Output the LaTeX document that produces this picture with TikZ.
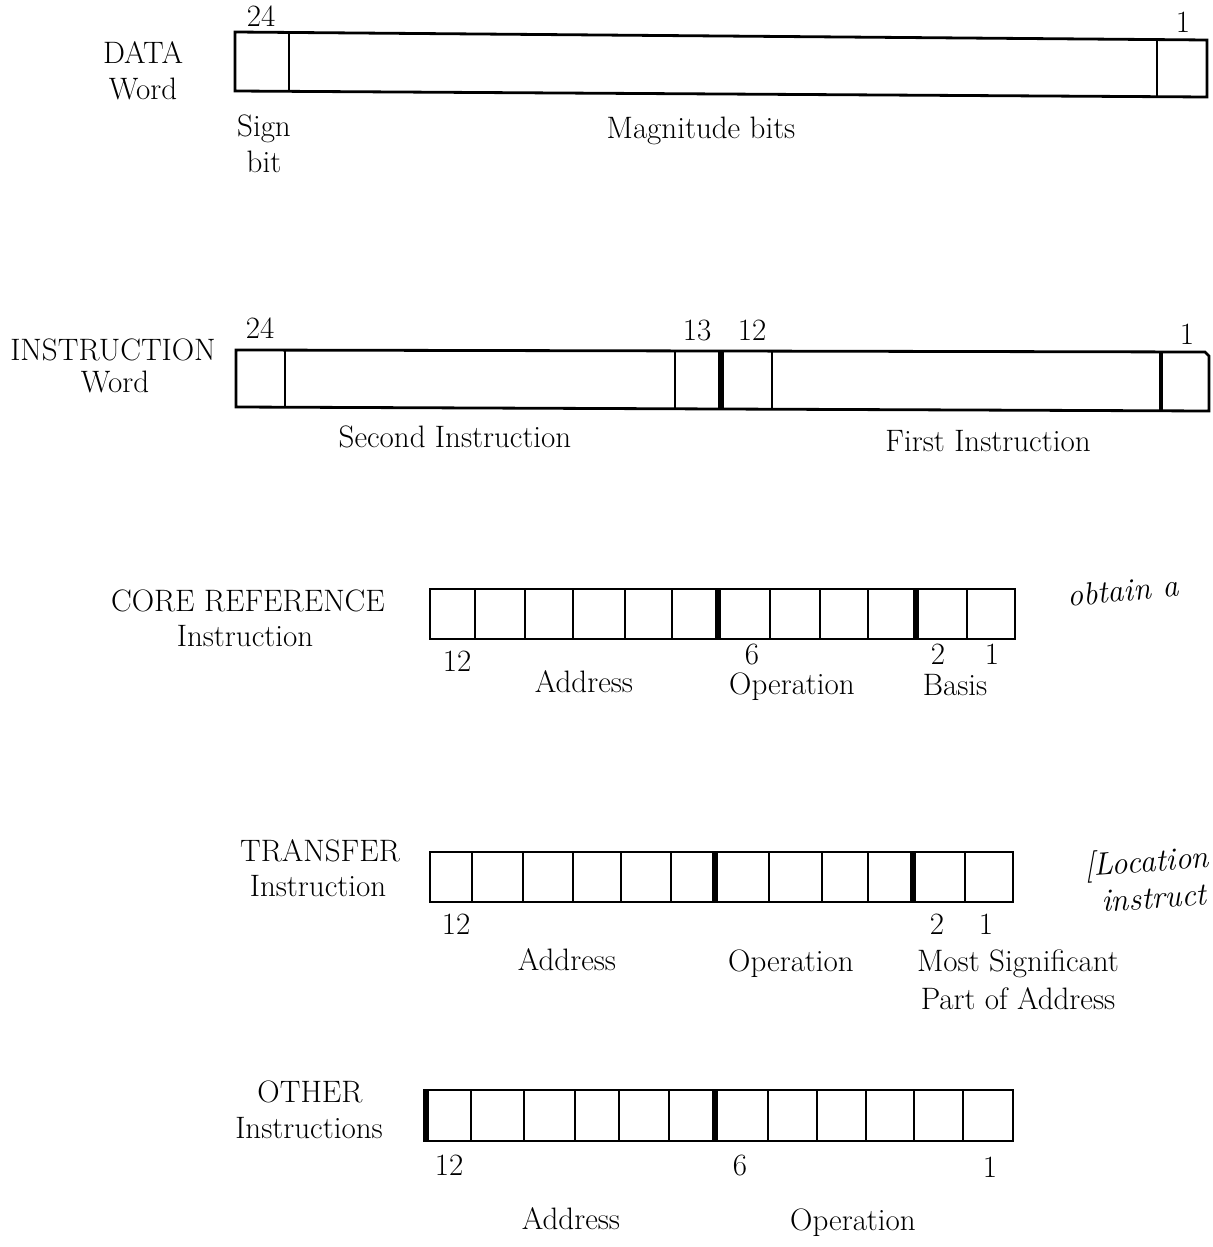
\documentclass[tikz,border=0pt]{standalone}
\begin{document}
\begin{tikzpicture}[x=0.5pt,y=-0.5pt,
  frame/.style={line width=1.4pt},
  thin div/.style={line width=1.4pt},
  thick div/.style={line width=3pt},
  lbl/.style={font=\fontsize{15.5}{18}\selectfont, inner sep=0pt, anchor=base},
  hand/.style={font=\fontsize{16}{18}\selectfont\itshape, inner sep=0pt, anchor=base west}]
\path[use as bounding box] (0,0) rectangle (1212,1247);
\clip (0,0) rectangle (1212,1247);

% ---------- DATA word ----------
\draw[frame] (235,32) -- (1207,40) -- (1207,97) -- (235,91) -- cycle;
\draw[thin div] (289,33) -- (289,91);
\draw[thin div] (1157,39) -- (1157,97);
\node[lbl] (d24) at (261,27) {24};
\node[lbl] (d1) at (1183,33) {1};
\node[lbl] (dtitle) at (143,64) {DATA};
\node[lbl] (dword) at (143,100) {Word};
\node[lbl] (sign) at (264,137) {Sign};
\node[lbl] (bit) at (264,172) {bit};
\node[lbl] (mag) at (701,139) {Magnitude bits};

% ---------- INSTRUCTION word ----------
\draw[frame] (236,350) -- (1205,352) -- (1209,356) -- (1209,411) -- (236,407) -- cycle;
\draw[thin div] (285,350) -- (285,407);
\draw[thin div] (675,351) -- (675,408);
\draw[thick div] (721,351) -- (721,408);
\draw[thin div] (772,351) -- (772,409);
\draw[line width=2.2pt] (1161,352) -- (1161,410);
\node[lbl] (i24) at (260,338) {24};
\node[lbl] (i13) at (697,340) {13};
\node[lbl] (i12) at (752,340) {12};
\node[lbl] (i1) at (1187,344) {1};
\node[lbl] (ititle) at (113,360) {INSTRUCTION};
\node[lbl] (iword) at (115,392) {Word};
\node[lbl] (second) at (455,447) {Second Instruction};
\node[lbl] (first) at (988,451) {First Instruction};

% ---------- CORE REFERENCE instruction ----------
\draw[frame] (430,589) rectangle (1015,639);
\foreach \x in {475,525,573,625,672,770,820,868,967}
  \draw[thin div] (\x,589) -- (\x,639);
\foreach \x in {718,916}
  \draw[thick div] (\x,589) -- (\x,639);
\node[lbl] (ctitle) at (248,611) {CORE REFERENCE};
\node[lbl] (cinstr) at (245,646) {Instruction};
\node[lbl] (c12) at (457,671) {12};
\node[lbl] (c6) at (752,664) {6};
\node[lbl] (c2) at (938,664) {2};
\node[lbl] (c1) at (992,664) {1};
\node[lbl] (caddr) at (584,692) {Address};
\node[lbl] (cop) at (792,694) {Operation};
\node[lbl] (cbasis) at (955,695) {Basis};
\node[hand, rotate=6] (obtain) at (1068,607) {obtain a};

% ---------- TRANSFER instruction ----------
\draw[frame] (430,852) rectangle (1013,902);
\foreach \x in {472,523,573,621,671,769,822,868,965}
  \draw[thin div] (\x,852) -- (\x,902);
\foreach \x in {715,913}
  \draw[thick div] (\x,852) -- (\x,902);
\node[lbl] (ttitle) at (320,861) {TRANSFER};
\node[lbl] (tinstr) at (318,896) {Instruction};
\node[lbl] (t12) at (456,934) {12};
\node[lbl] (t2) at (937,934) {2};
\node[lbl] (t1) at (986,934) {1};
\node[lbl] (taddr) at (567,970) {Address};
\node[lbl] (top) at (791,971) {Operation};
\node[lbl] (tmost) at (1018,971) {Most Significant};
\node[lbl] (tpart) at (1018,1009) {Part of Address};
\node[hand, rotate=4] (loc) at (1085,876) {[Location};
\node[hand, rotate=4] (instr) at (1102,912) {instruct};

% ---------- OTHER instructions ----------
\draw[frame] (426,1090) rectangle (1013,1141);
\draw[thick div] (426,1089) -- (426,1142);
\foreach \x in {471,524,575,619,669,768,817,866,914,963}
  \draw[thin div] (\x,1090) -- (\x,1141);
\draw[thick div] (715,1090) -- (715,1141);
\node[lbl] (otitle) at (310,1102) {OTHER};
\node[lbl] (oinstr) at (309,1138) {Instructions};
\node[lbl] (o12) at (449,1175) {12};
\node[lbl] (o6) at (740,1175) {6};
\node[lbl] (o1) at (990,1177) {1};
\node[lbl] (oaddr) at (571,1229) {Address};
\node[lbl] (oop) at (853,1230) {Operation};
\end{tikzpicture}
\end{document}
